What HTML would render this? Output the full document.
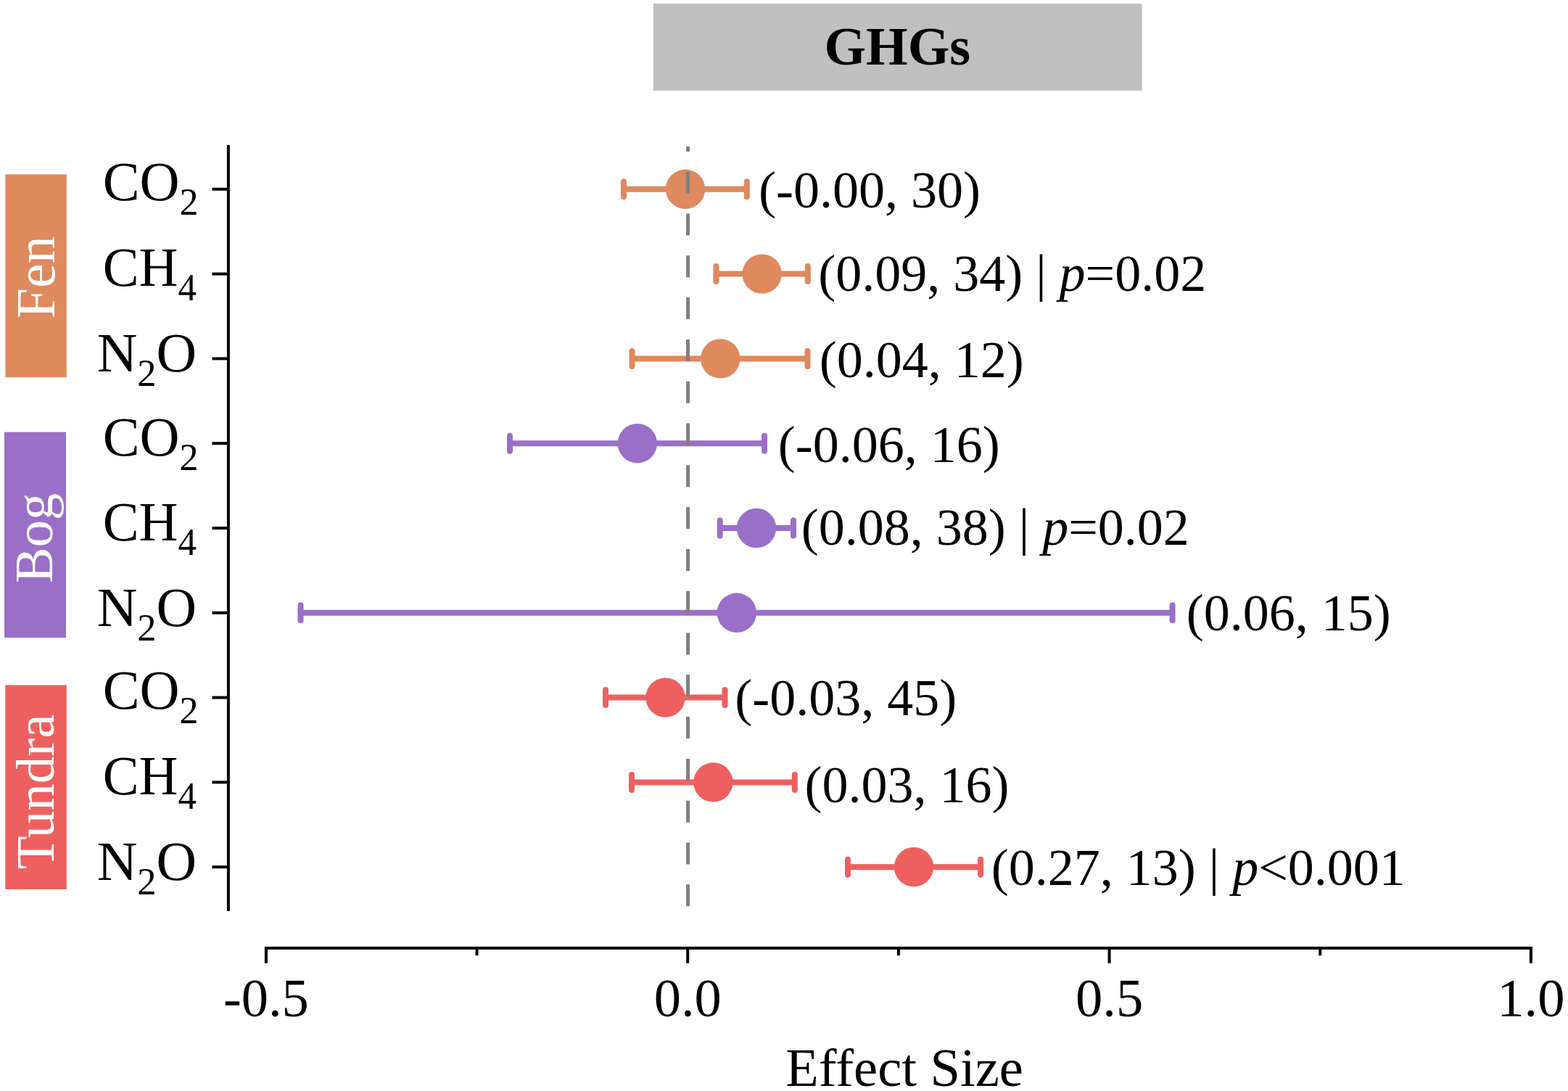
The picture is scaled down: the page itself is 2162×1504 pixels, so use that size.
<!DOCTYPE html>
<html><head><meta charset="utf-8"><title>GHGs</title>
<style>
html,body{margin:0;padding:0;background:#fff;}
body{width:2162px;height:1504px;overflow:hidden;}
svg{display:block;}
text{font-family:"Liberation Serif","Times New Roman",serif;}
</style></head><body>
<svg width="2162" height="1504" viewBox="0 0 2162 1504">
<rect x="0" y="0" width="2162" height="1504" fill="#fff"/>

<rect x="901" y="5" width="673.6" height="120" fill="#c0c0c0"/>
<text x="1237.3" y="88.7" font-size="74" font-weight="bold" text-anchor="middle" fill="#000">GHGs</text>
<rect x="7.4" y="240.4" width="84.4" height="279.8" fill="#de895e"/>
<text transform="translate(74.5 382.2) rotate(-90)" x="0" y="0" font-size="76" text-anchor="middle" fill="#fff">Fen</text>
<rect x="6" y="595.6" width="85.0" height="283.4" fill="#9a6fc8"/>
<text transform="translate(71.8 741.9) rotate(-90)" x="0" y="0" font-size="74.5" text-anchor="middle" fill="#fff">Bog</text>
<rect x="7.3" y="944.4" width="84.5" height="281.5" fill="#ee6060"/>
<text transform="translate(74 1091.4) rotate(-90)" x="0" y="0" font-size="75" text-anchor="middle" fill="#fff">Tundra</text>
<line x1="314.9" y1="200" x2="314.9" y2="1256" stroke="#000" stroke-width="4"/>
<line x1="292.5" y1="260.8" x2="314.9" y2="260.8" stroke="#000" stroke-width="4"/>
<text transform="translate(273.6 276.1) scale(0.99 1)" font-size="77" text-anchor="end" fill="#000">CO<tspan font-size="52.5" dy="20">2</tspan></text>
<line x1="292.5" y1="377.6" x2="314.9" y2="377.6" stroke="#000" stroke-width="4"/>
<text transform="translate(271 394.4) scale(0.97 1)" font-size="77" text-anchor="end" fill="#000">CH<tspan font-size="52.5" dy="20">4</tspan></text>
<line x1="292.5" y1="494.4" x2="314.9" y2="494.4" stroke="#000" stroke-width="4"/>
<text transform="translate(271.2 511.5) scale(1.0 1)" font-size="77" text-anchor="end" fill="#000">N<tspan font-size="52.5" dy="20">2</tspan><tspan dy="-20">O</tspan></text>
<line x1="292.5" y1="611.2" x2="314.9" y2="611.2" stroke="#000" stroke-width="4"/>
<text transform="translate(273.6 628.3) scale(0.99 1)" font-size="77" text-anchor="end" fill="#000">CO<tspan font-size="52.5" dy="20">2</tspan></text>
<line x1="292.5" y1="728.0" x2="314.9" y2="728.0" stroke="#000" stroke-width="4"/>
<text transform="translate(271 745.3) scale(0.97 1)" font-size="77" text-anchor="end" fill="#000">CH<tspan font-size="52.5" dy="20">4</tspan></text>
<line x1="292.5" y1="844.8" x2="314.9" y2="844.8" stroke="#000" stroke-width="4"/>
<text transform="translate(271.2 863.1) scale(1.0 1)" font-size="77" text-anchor="end" fill="#000">N<tspan font-size="52.5" dy="20">2</tspan><tspan dy="-20">O</tspan></text>
<line x1="292.5" y1="961.6" x2="314.9" y2="961.6" stroke="#000" stroke-width="4"/>
<text transform="translate(273.6 977.4) scale(0.99 1)" font-size="77" text-anchor="end" fill="#000">CO<tspan font-size="52.5" dy="20">2</tspan></text>
<line x1="292.5" y1="1078.4" x2="314.9" y2="1078.4" stroke="#000" stroke-width="4"/>
<text transform="translate(271 1095.2) scale(0.97 1)" font-size="77" text-anchor="end" fill="#000">CH<tspan font-size="52.5" dy="20">4</tspan></text>
<line x1="292.5" y1="1195.2" x2="314.9" y2="1195.2" stroke="#000" stroke-width="4"/>
<text transform="translate(271.2 1212.5) scale(1.0 1)" font-size="77" text-anchor="end" fill="#000">N<tspan font-size="52.5" dy="20">2</tspan><tspan dy="-20">O</tspan></text>
<line x1="364.9" y1="1307.1" x2="2112.9" y2="1307.1" stroke="#000" stroke-width="4"/>
<line x1="366.89" y1="1307" x2="366.89" y2="1327.8" stroke="#000" stroke-width="4"/>
<text x="366.89" y="1400.5" font-size="74.5" text-anchor="middle" fill="#000">-0.5</text>
<line x1="948.23" y1="1307" x2="948.23" y2="1327.8" stroke="#000" stroke-width="4"/>
<text x="948.23" y="1400.5" font-size="74.5" text-anchor="middle" fill="#000">0.0</text>
<line x1="1529.57" y1="1307" x2="1529.57" y2="1327.8" stroke="#000" stroke-width="4"/>
<text x="1529.57" y="1400.5" font-size="74.5" text-anchor="middle" fill="#000">0.5</text>
<line x1="2110.9" y1="1307" x2="2110.9" y2="1327.8" stroke="#000" stroke-width="4"/>
<text x="2110.9" y="1400.5" font-size="74.5" text-anchor="middle" fill="#000">1.0</text>
<line x1="657.56" y1="1307" x2="657.56" y2="1317.2" stroke="#000" stroke-width="4"/>
<line x1="1238.9" y1="1307" x2="1238.9" y2="1317.2" stroke="#000" stroke-width="4"/>
<line x1="1820.23" y1="1307" x2="1820.23" y2="1317.2" stroke="#000" stroke-width="4"/>
<text x="1083.3" y="1496.8" font-size="74.5" fill="#000">Effect Size</text>
<g stroke="#de895e" stroke-linecap="round"><line x1="860" y1="260.8" x2="1029.8" y2="260.8" stroke-width="8" stroke-linecap="butt"/><line x1="860" y1="250.3" x2="860" y2="271.3" stroke-width="8"/><line x1="1029.8" y1="250.3" x2="1029.8" y2="271.3" stroke-width="8"/></g>
<circle cx="945" cy="260.8" r="27.2" fill="#de895e"/>
<text x="1046.0" y="285.6" font-size="72" fill="#000">(-0.00, 30)</text>
<g stroke="#de895e" stroke-linecap="round"><line x1="987.4" y1="377.6" x2="1113.8" y2="377.6" stroke-width="8" stroke-linecap="butt"/><line x1="987.4" y1="367.1" x2="987.4" y2="388.1" stroke-width="8"/><line x1="1113.8" y1="367.1" x2="1113.8" y2="388.1" stroke-width="8"/></g>
<circle cx="1050.7" cy="377.6" r="27.2" fill="#de895e"/>
<text x="1128.2" y="400.6" font-size="72" fill="#000">(0.09, 34) | <tspan font-style="italic">p</tspan>=0.02</text>
<g stroke="#de895e" stroke-linecap="round"><line x1="871.5" y1="494.4" x2="1113.5" y2="494.4" stroke-width="8" stroke-linecap="butt"/><line x1="871.5" y1="483.9" x2="871.5" y2="504.9" stroke-width="8"/><line x1="1113.5" y1="483.9" x2="1113.5" y2="504.9" stroke-width="8"/></g>
<circle cx="993.3" cy="494.4" r="27.2" fill="#de895e"/>
<text x="1129.8" y="519.6" font-size="72" fill="#000">(0.04, 12)</text>
<g stroke="#9a6fc8" stroke-linecap="round"><line x1="703" y1="611.2" x2="1054" y2="611.2" stroke-width="8" stroke-linecap="butt"/><line x1="703" y1="600.7" x2="703" y2="621.7" stroke-width="8"/><line x1="1054" y1="600.7" x2="1054" y2="621.7" stroke-width="8"/></g>
<circle cx="878.8" cy="611.2" r="27.2" fill="#9a6fc8"/>
<text x="1072.8" y="636.7" font-size="72" fill="#000">(-0.06, 16)</text>
<g stroke="#9a6fc8" stroke-linecap="round"><line x1="992.7" y1="728.0" x2="1094" y2="728.0" stroke-width="8" stroke-linecap="butt"/><line x1="992.7" y1="717.5" x2="992.7" y2="738.5" stroke-width="8"/><line x1="1094" y1="717.5" x2="1094" y2="738.5" stroke-width="8"/></g>
<circle cx="1043" cy="728.0" r="27.2" fill="#9a6fc8"/>
<text x="1104.8" y="751.1" font-size="72" fill="#000">(0.08, 38) | <tspan font-style="italic">p</tspan>=0.02</text>
<g stroke="#9a6fc8" stroke-linecap="round"><line x1="414.5" y1="844.8" x2="1616.6" y2="844.8" stroke-width="8" stroke-linecap="butt"/><line x1="414.5" y1="834.3" x2="414.5" y2="855.3" stroke-width="8"/><line x1="1616.6" y1="834.3" x2="1616.6" y2="855.3" stroke-width="8"/></g>
<circle cx="1015.8" cy="844.8" r="27.2" fill="#9a6fc8"/>
<text x="1635.8" y="869.3" font-size="72" fill="#000">(0.06, 15)</text>
<g stroke="#ee6060" stroke-linecap="round"><line x1="835" y1="961.6" x2="999.5" y2="961.6" stroke-width="8" stroke-linecap="butt"/><line x1="835" y1="951.1" x2="835" y2="972.1" stroke-width="8"/><line x1="999.5" y1="951.1" x2="999.5" y2="972.1" stroke-width="8"/></g>
<circle cx="917.5" cy="961.6" r="27.2" fill="#ee6060"/>
<text x="1013.3" y="986.4" font-size="72" fill="#000">(-0.03, 45)</text>
<g stroke="#ee6060" stroke-linecap="round"><line x1="871" y1="1078.4" x2="1095.8" y2="1078.4" stroke-width="8" stroke-linecap="butt"/><line x1="871" y1="1067.9" x2="871" y2="1088.9" stroke-width="8"/><line x1="1095.8" y1="1067.9" x2="1095.8" y2="1088.9" stroke-width="8"/></g>
<circle cx="983.4" cy="1078.4" r="27.2" fill="#ee6060"/>
<text x="1109.5" y="1106.2" font-size="72" fill="#000">(0.03, 16)</text>
<g stroke="#ee6060" stroke-linecap="round"><line x1="1169" y1="1195.2" x2="1352" y2="1195.2" stroke-width="8" stroke-linecap="butt"/><line x1="1169" y1="1184.7" x2="1169" y2="1205.7" stroke-width="8"/><line x1="1352" y1="1184.7" x2="1352" y2="1205.7" stroke-width="8"/></g>
<circle cx="1260" cy="1195.2" r="27.2" fill="#ee6060"/>
<text x="1366.8" y="1219.6" font-size="72" fill="#000">(0.27, 13) | <tspan font-style="italic">p</tspan>&lt;0.001</text>
<line x1="948.5" y1="1249.3" x2="948.5" y2="202" stroke="#808080" stroke-width="5" stroke-dasharray="30 27.8"/>
</svg>
</body></html>
